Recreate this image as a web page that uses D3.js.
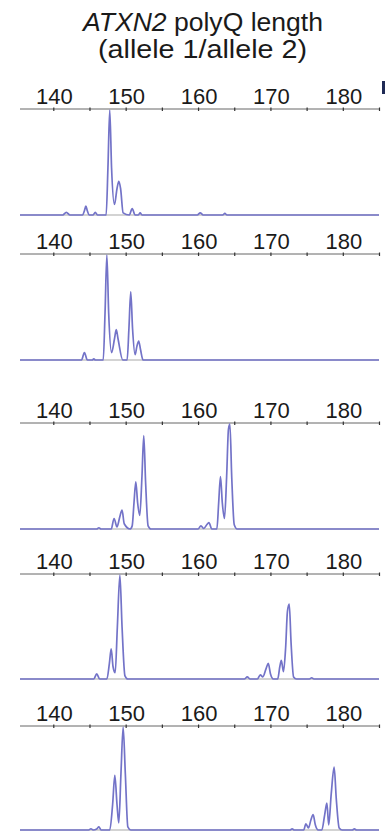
<!DOCTYPE html>
<html>
<head>
<meta charset="utf-8">
<script src="https://cdn.jsdelivr.net/npm/d3@7"></script>
<style>
  html, body { margin: 0; padding: 0; background: #fff; }
  svg { display: block; }
</style>
</head>
<body>
<svg id="chart" width="390" height="831"></svg>
<script>
// Axis ticks (polyQ length)
const labelTicks = [140, 150, 160, 170, 180];
const minorTicks = [140, 145, 150, 155, 160, 165, 170, 175, 180, 185];
const xDomain = [135.4, 185];

// Capillary traces: [polyQ length, relative signal]
const trace1 = [
  [135.4, 0], [141.3, 0], [141.8, 0.025], [142.3, 0],
  [144.05, 0], [144.3, 0.04], [144.5, 0.085], [144.7, 0.04], [144.95, 0],
  [145.5, 0], [145.8, 0.025], [146.1, 0],
  [147.3, 0], [147.55, 0.45], [147.8, 1.0], [148.05, 0.45], [148.45, 0.1],
  [148.8, 0.25], [149.05, 0.32], [149.3, 0.25], [149.65, 0.02],
  [150.5, 0], [150.9, 0.06], [151.3, 0], [151.75, 0], [152.0, 0.02], [152.25, 0],
  [159.9, 0], [160.3, 0.02], [160.7, 0],
  [163.4, 0], [163.7, 0.015], [164.0, 0],
  [185, 0]
];
const trace2 = [
  [135.4, 0], [143.9, 0], [144.3, 0.07], [144.7, 0],
  [145.4, 0], [145.6, 0.012], [145.8, 0],
  [146.9, 0], [147.15, 0.45], [147.4, 1.0], [147.65, 0.45], [148.05, 0.07],
  [148.45, 0.2], [148.7, 0.29], [148.95, 0.2], [149.6, 0],
  [150.2, 0], [150.45, 0.3], [150.7, 0.65], [150.95, 0.3], [151.3, 0.05],
  [151.55, 0.13], [151.8, 0.18], [152.05, 0.1], [152.4, 0],
  [185, 0]
];
const trace3 = [
  [135.4, 0], [146.0, 0], [146.3, 0.012], [146.6, 0],
  [148.0, 0], [148.4, 0.1], [148.8, 0.02], [149.2, 0.12], [149.5, 0.18], [149.8, 0.05], [150.6, 0],
  [150.9, 0.03], [151.15, 0.25], [151.4, 0.45], [151.65, 0.25], [151.95, 0.13],
  [152.25, 0.5], [152.5, 0.89], [152.75, 0.45], [153.1, 0.03], [153.5, 0],
  [160.0, 0], [160.4, 0.03], [160.8, 0.005], [161.2, 0.04], [161.5, 0.06], [161.9, 0],
  [162.6, 0], [162.85, 0.25], [163.1, 0.5], [163.35, 0.25], [163.65, 0.1],
  [163.95, 0.5], [164.2, 0.95], [164.4, 1.0], [164.65, 0.5], [165.0, 0.04], [165.4, 0],
  [185, 0]
];
const trace4 = [
  [135.4, 0], [145.6, 0], [146.0, 0.05], [146.4, 0],
  [147.4, 0], [147.75, 0.15], [148.0, 0.29], [148.25, 0.12], [148.55, 0.06],
  [148.85, 0.5], [149.2, 1.0], [149.5, 0.5], [149.9, 0.03], [150.3, 0],
  [166.4, 0], [166.8, 0.02], [167.2, 0],
  [168.2, 0], [168.6, 0.04], [168.95, 0.02], [169.4, 0.1], [169.7, 0.15], [170.0, 0.05], [170.4, 0],
  [171.0, 0], [171.3, 0.12], [171.5, 0.18], [171.8, 0.07],
  [172.1, 0.3], [172.35, 0.65], [172.6, 0.72], [172.85, 0.35], [173.2, 0.02], [173.6, 0],
  [175.4, 0], [175.7, 0.012], [176.0, 0],
  [185, 0]
];
const trace5 = [
  [135.4, 0], [144.9, 0], [145.2, 0.012], [145.5, 0], [146.0, 0.01], [146.3, 0.03], [146.6, 0],
  [147.8, 0], [148.2, 0.25], [148.5, 0.53], [148.8, 0.25], [149.05, 0.07],
  [149.35, 0.55], [149.65, 1.0], [149.95, 0.55], [150.3, 0.03], [150.7, 0],
  [172.7, 0], [173.0, 0.01], [173.3, 0],
  [174.6, 0], [174.9, 0.06], [175.25, 0.02], [175.6, 0.1], [175.9, 0.15], [176.2, 0.05], [176.6, 0],
  [177.1, 0], [177.5, 0.15], [177.8, 0.26], [178.05, 0.05],
  [178.4, 0.35], [178.8, 0.61], [179.1, 0.3], [179.5, 0.02], [179.9, 0],
  [181.3, 0], [181.6, 0.01], [181.9, 0],
  [185, 0]
];
const traces = [trace1, trace2, trace3, trace4, trace5];

// Panel geometry: axis line y and trace baseline y
const panels = [
  { axisY: 109, baseY: 215 },
  { axisY: 254, baseY: 360 },
  { axisY: 423, baseY: 529 },
  { axisY: 574, baseY: 679 },
  { axisY: 726, baseY: 830 }
];

const svg = d3.select("#chart");
const x = d3.scaleLinear().domain(xDomain).range([20, 379]);
const font = "'Liberation Sans', Arial, Helvetica, sans-serif";

// Title (two lines, set to a fixed width)
const title = svg.append("text")
  .attr("x", 83).attr("y", 31)
  .attr("textLength", 240).attr("lengthAdjust", "spacingAndGlyphs")
  .attr("font-family", font).attr("font-size", 25).attr("fill", "#1a1a1a");
title.append("tspan").attr("font-style", "italic").text("ATXN2");
title.append("tspan").text(" polyQ length");
svg.append("text")
  .attr("x", 98).attr("y", 58)
  .attr("textLength", 209).attr("lengthAdjust", "spacingAndGlyphs")
  .attr("font-family", font).attr("font-size", 25).attr("fill", "#1a1a1a")
  .text("(allele 1/allele 2)");

// Stem of the neighbouring panel's mark at the right edge
svg.append("rect")
  .attr("x", 382).attr("y", 81)
  .attr("width", 3).attr("height", 13)
  .attr("fill", "#1f2a55");

panels.forEach((p, i) => {
  const y = d3.scaleLinear().domain([0, 1]).range([p.baseY, p.axisY + 1]);
  const g = svg.append("g");

  // axis line with small ticks
  const axis = d3.axisTop(x).tickValues(minorTicks).tickSize(0).tickFormat("");
  const ag = g.append("g").attr("transform", `translate(0,${p.axisY})`).call(axis);
  ag.select(".domain").attr("stroke", "#666").attr("stroke-width", 1)
    .attr("d", `M${x.range()[0]},0H${x.range()[1]}`);
  ag.selectAll(".tick").append("line")
    .attr("y1", -1.5).attr("y2", 2)
    .attr("stroke", "#333").attr("stroke-width", 1.2);

  // tick labels
  g.selectAll("text.lab").data(labelTicks).join("text")
    .attr("class", "lab")
    .attr("x", d => x(d) + 1)
    .attr("y", p.axisY - 5)
    .attr("text-anchor", "middle")
    .attr("font-family", font).attr("font-size", 22).attr("fill", "#1a1a1a")
    .text(d => d);

  // grey baseline
  g.append("line")
    .attr("x1", x.range()[0]).attr("x2", x.range()[1])
    .attr("y1", p.baseY).attr("y2", p.baseY)
    .attr("stroke", "#c4c4c4").attr("stroke-width", 1.5);

  // trace
  const line = d3.line()
    .x(d => x(d[0]))
    .y(d => y(d[1]))
    .curve(d3.curveMonotoneX);
  g.append("path")
    .datum(traces[i])
    .attr("d", line)
    .attr("fill", "none")
    .attr("stroke", "#7373c8")
    .attr("stroke-width", 1.7)
    .attr("stroke-linejoin", "round");
});
</script>
</body>
</html>
